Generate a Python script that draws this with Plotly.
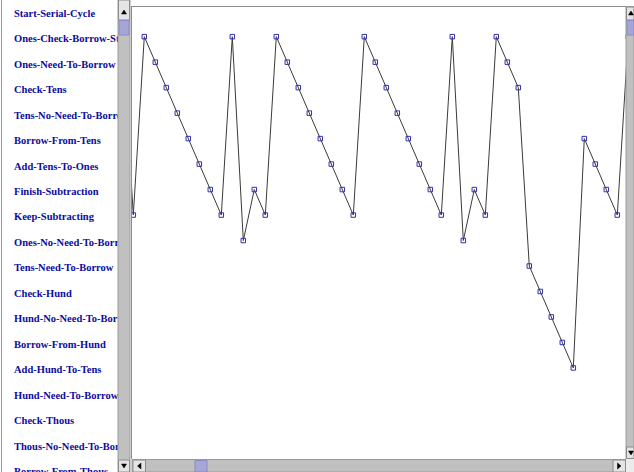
import plotly.graph_objects as go

# ---- data -------------------------------------------------------------
categories = [
    "Start-Serial-Cycle", "Ones-Check-Borrow-Step", "Ones-Need-To-Borrow",
    "Check-Tens", "Tens-No-Need-To-Borrow", "Borrow-From-Tens",
    "Add-Tens-To-Ones", "Finish-Subtraction", "Keep-Subtracting",
    "Ones-No-Need-To-Borrow", "Tens-Need-To-Borrow", "Check-Hund",
    "Hund-No-Need-To-Borrow", "Borrow-From-Hund", "Add-Hund-To-Tens",
    "Hund-Need-To-Borrow", "Check-Thous", "Thous-No-Need-To-Borrow",
    "Borrow-From-Thous",
]
steps = list(range(-1, 46))
state_index = [
    1, 8, 1, 2, 3, 4, 5, 6, 7, 8, 1, 9, 7, 8, 1, 2, 3, 4, 5, 6, 7, 8,
    1, 2, 3, 4, 5, 6, 7, 8, 1, 9, 7, 8, 1, 2, 3, 10, 11, 12, 13, 14,
    5, 6, 7, 8, 1,
]
label_rows = list(range(len(categories)))

W, H = 634, 472
def px(x): return x / W
def py(y): return 1 - y / H

fig = go.Figure()

fig.add_trace(go.Scatter(
    x=steps, y=state_index, mode="lines+markers",
    line=dict(color="#3a3a3a", width=1),
    marker=dict(symbol="square-open", size=4.5, color="#3030a8",
                line=dict(width=1, color="#3030a8")),
    hoverinfo="skip", showlegend=False, xaxis="x", yaxis="y",
))

fig.add_trace(go.Scatter(
    x=[14] * len(categories), y=label_rows, mode="text",
    text=categories, textposition="middle right",
    textfont=dict(family="Liberation Serif", size=10.5, color="#0c0c9c",
                  weight="bold"),
    hoverinfo="skip", showlegend=False, xaxis="x2", yaxis="y2",
))

sp = 25.48
fig.update_layout(
    width=W, height=H, margin=dict(l=0, r=0, t=0, b=0),
    paper_bgcolor="white", plot_bgcolor="white",
    xaxis=dict(domain=[px(132), px(626)],
               range=[(132 - 133.3) / 11.0, (626 - 133.3) / 11.0],
               visible=False, anchor="y"),
    yaxis=dict(domain=[py(459), py(6.5)],
               range=[(459 - 11.2) / sp, (6.5 - 11.2) / sp],
               visible=False, anchor="x"),
    xaxis2=dict(domain=[0, px(118)], range=[0, 118], visible=False,
                anchor="y2"),
    yaxis2=dict(domain=[0, 1], range=[(472 - 14) / sp, -14 / sp],
                visible=False, anchor="x2"),
)

shapes = []
def rect(x0, y0, x1, y1, fill, line=None, lw=0):
    shapes.append(dict(type="rect", xref="paper", yref="paper",
                       x0=px(x0), x1=px(x1), y0=py(y1), y1=py(y0),
                       fillcolor=fill, layer="above",
                       line=dict(color=line or fill, width=lw)))
def hline(x0, x1, y, color, w=1):
    shapes.append(dict(type="line", xref="paper", yref="paper",
                       x0=px(x0), x1=px(x1), y0=py(y), y1=py(y),
                       layer="above", line=dict(color=color, width=w)))
def vline(x, y0, y1, color, w=1):
    shapes.append(dict(type="line", xref="paper", yref="paper",
                       x0=px(x), x1=px(x), y0=py(y0), y1=py(y1),
                       layer="above", line=dict(color=color, width=w)))
def tri(points):
    p = "M " + " L ".join(f"{px(a)},{py(b)}" for a, b in points) + " Z"
    shapes.append(dict(type="path", xref="paper", yref="paper", path=p,
                       fillcolor="black", layer="above",
                       line=dict(color="black", width=0.5)))
def button(x0, y0, x1, y1):
    rect(x0, y0, x1, y1, "#e4e4e4", "#8c8c8c", 1)

# left panel border
vline(1.5, 0, 472, "#9a9a9a")
# left vertical scrollbar
rect(118, 0, 130, 472, "#c0c0c0", "#9a9a9a", 1)
button(118.5, 0, 129.5, 20)
tri([(121.5, 14), (126.5, 14), (124, 10)])
rect(119, 20.5, 129, 35, "#a6a6d6", "#8a8ac4", 1)
button(118.5, 460, 129.5, 472)
tri([(121.5, 464), (126.5, 464), (124, 468)])
# plot frame
hline(131, 626, 6.5, "#8c8c8c")
vline(131.5, 6, 459, "#8c8c8c")
# right vertical scrollbar
rect(626, 6.5, 634, 459, "#c0c0c0", "#9a9a9a", 1)
button(626.5, 7, 634, 20)
tri([(628.5, 15), (633.5, 15), (631, 11)])
rect(627, 20.5, 634, 35, "#a6a6d6", "#8a8ac4", 1)
button(626.5, 447, 634, 458.5)
tri([(628.5, 451), (633.5, 451), (631, 455)])
# bottom horizontal scrollbar
rect(132, 459.5, 626, 472, "#c0c0c0", "#9a9a9a", 1)
button(133, 460, 145.5, 472)
tri([(141, 463), (141, 469), (137.5, 466)])
rect(195, 460.5, 207, 472, "#a6a6d6", "#8a8ac4", 1)
button(613, 460, 625.5, 472)
tri([(617.5, 463), (617.5, 469), (621, 466)])
rect(626, 459, 634, 472, "#ececec")

fig.update_layout(shapes=shapes)
fig.write_html(
    "out.html",
    config={"displayModeBar": False},
    post_script="document.body.style.margin='0';"
                "document.body.style.overflow='hidden';",
)
